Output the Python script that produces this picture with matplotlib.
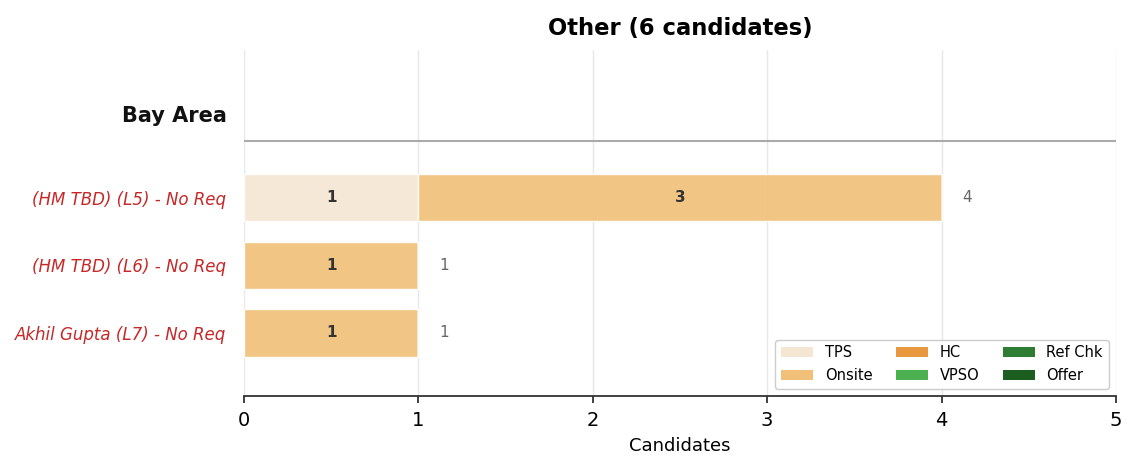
import matplotlib
matplotlib.use("Agg")
import matplotlib.pyplot as plt
from matplotlib.patches import Patch

stages = ["TPS", "Onsite", "HC", "VPSO", "Ref Chk", "Offer"]
stage_colors = ["#f5e6d3", "#f0c078", "#e8983e", "#4caf50", "#2e7d32", "#1b5e20"]

rows = ["(HM TBD) (L5) - No Req", "(HM TBD) (L6) - No Req", "Akhil Gupta (L7) - No Req"]
tps = [1, 0, 0]
onsite = [3, 1, 1]
hc = [0, 0, 0]
vpso = [0, 0, 0]
ref_chk = [0, 0, 0]
offer = [0, 0, 0]
counts = [tps, onsite, hc, vpso, ref_chk, offer]

group_name = "Bay Area"
title = "Other (6 candidates)"

fig, ax = plt.subplots(figsize=(11.37, 4.73), dpi=100)
fig.subplots_adjust(left=0.2146, right=0.9815, top=0.894, bottom=0.163)

ypos = list(range(len(rows)))
lefts = [0] * len(rows)
for name, color, vals in zip(stages, stage_colors, counts):
    ax.barh(ypos, vals, left=lefts, height=0.7, color=color, alpha=0.9,
            edgecolor="white", linewidth=1, zorder=2, label=name)
    for y, v, l in zip(ypos, vals, lefts):
        if v > 0:
            ax.text(l + v / 2, y, str(v), ha="center", va="center",
                    fontsize=11, fontweight="bold", color="#333333", zorder=3)
    lefts = [l + v for l, v in zip(lefts, vals)]

for y, total in zip(ypos, lefts):
    ax.text(total + 0.12, y, str(total), ha="left", va="center",
            fontsize=11, color="#666666")

ax.set_yticks(ypos)
ax.set_yticklabels(rows, fontsize=12, fontstyle="italic", color="#c62828")
ax.tick_params(axis="y", length=0, pad=13)
ax.text(-0.1, -1.2, group_name, ha="right", va="center", fontsize=15,
        fontweight="bold", color="#111111")
ax.axhline(-0.83, color="#aaaaaa", linewidth=1.5, zorder=1)

ax.set_xlim(0, 5)
ax.set_ylim(2.93, -2.18)
ax.tick_params(axis="x", labelsize=14, length=5, width=1.3, color="#333333",
               pad=6)
ax.set_xlabel("Candidates", fontsize=13, labelpad=5)
ax.set_title(title, fontsize=16.3, fontweight="bold", pad=11)
ax.grid(axis="x", color="#e8e8e8", linewidth=1, zorder=0)
ax.set_axisbelow(True)
for side in ["top", "right", "left"]:
    ax.spines[side].set_visible(False)
ax.spines["bottom"].set_color("#333333")
ax.spines["bottom"].set_linewidth(1.3)

handles = [Patch(facecolor=c, label=s) for s, c in zip(stages, stage_colors)]
ax.legend(handles=handles, ncol=3, loc="lower right", fontsize=10.5,
          frameon=True, framealpha=1, edgecolor="#cccccc",
          handlelength=2.2, columnspacing=1.6, handletextpad=0.8,
          borderaxespad=0.5)

fig.savefig("out.png", dpi=100)
